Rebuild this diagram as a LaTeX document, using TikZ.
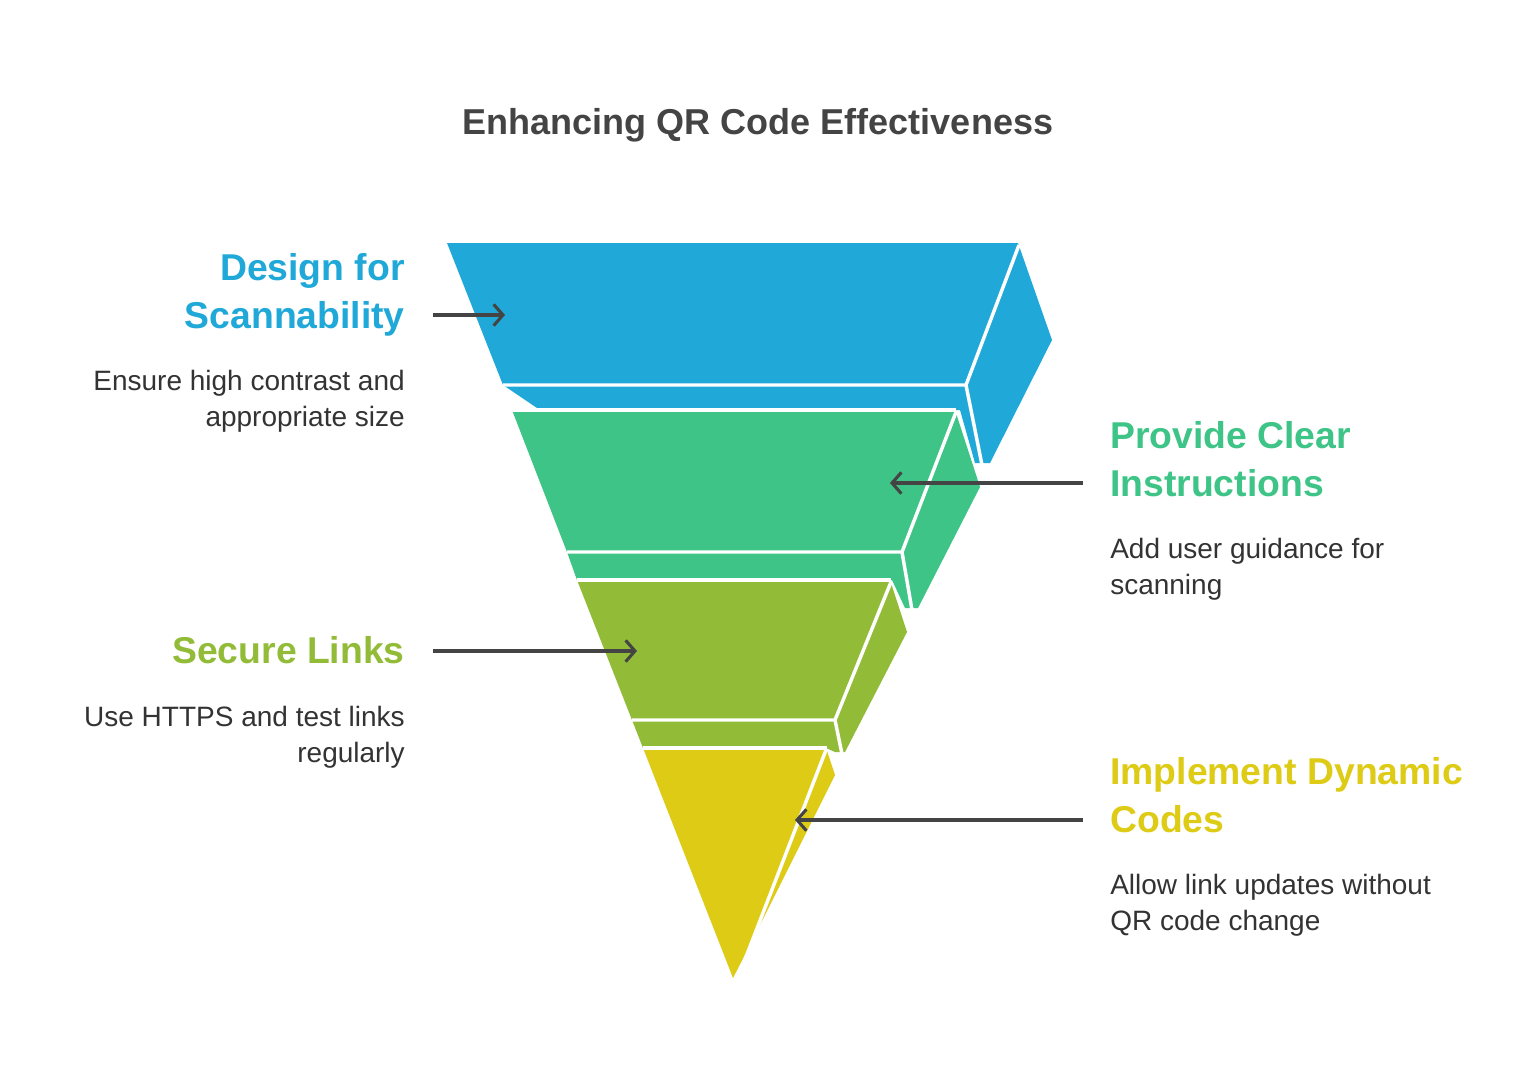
\documentclass[tikz,border=0pt]{standalone}
\usepackage{fontspec}
\setmainfont{Liberation Sans}
\usetikzlibrary{arrows.meta}
\definecolor{cblue}{HTML}{1FA8D8}
\definecolor{cgreen}{HTML}{3EC486}
\definecolor{colive}{HTML}{92BC38}
\definecolor{cyellow}{HTML}{DDCB16}
\definecolor{ctxt}{HTML}{444444}
\definecolor{cdesc}{HTML}{333333}
\begin{document}
\begin{tikzpicture}[x=0.75pt,y=-0.75pt,
  sep/.style={white,line width=2.6pt,line join=miter},
  arr/.style={ctxt,line width=2.3pt,-{Straight Barb[length=7pt,width=16pt,line width=2.3pt]}},
  head/.style={font=\fontsize{28}{34}\selectfont\bfseries,inner sep=0pt},
  desc/.style={font=\fontsize{21}{27}\selectfont,text=cdesc,inner sep=0pt}]
\useasboundingbox[fill=white] (0,0) rectangle (1540,1084);
\node[font=\fontsize{27}{32}\selectfont\bfseries,text=ctxt,anchor=base,inner sep=0pt] (title) at (758,135) {Enhancing QR Code Effectiveness};
% blue
\fill[cblue] (447,243)--(1018,243)--(1052,340)--(990,463)--(975,463)--(960,410)--(540,410)--(503,385)--cycle;
\draw[sep] (503,385)--(966,385)--(1019,245);
\draw[sep] (966,385)--(982,465);
% green
\fill[cgreen] (512,410)--(955,410)--(980,487)--(918,608)--(905,608)--(892,580)--(577,580)--(567,552)--cycle;
\draw[sep] (512,410)--(956,410);
\draw[sep] (567,552)--(902,552)--(956,412);
\draw[sep] (902,552)--(912,610);
% olive
\fill[colive] (577,580)--(890,580)--(907,632)--(845,752)--(835,752)--(826,748)--(643,748)--(632,720)--cycle;
\draw[sep] (577,580)--(891,580);
\draw[sep] (632,720)--(835,720)--(891,582);
\draw[sep] (835,720)--(842,754);
% yellow
\fill[cyellow] (643,748)--(826,748)--(835,775)--(750,945)--(733,978)--cycle;
\draw[sep] (643,748)--(827,748);
\draw[sep] (826,750)--(744,962);
% arrows
\coordinate (a1) at (433,315); \coordinate (b1) at (505,315);
\coordinate (a2) at (1083,483); \coordinate (b2) at (890,483);
\coordinate (a3) at (433,651); \coordinate (b3) at (637,651);
\coordinate (a4) at (1083,820); \coordinate (b4) at (795,820);
\draw[arr] (a1)--(b1); \draw[arr] (a2)--(b2); \draw[arr] (a3)--(b3); \draw[arr] (a4)--(b4);
% texts left
\node[head,text=cblue,anchor=base east] (h1a) at (405,280) {Design for};
\node[head,text=cblue,anchor=base east] (h1b) at (405,328) {Scannability};
\node[desc,anchor=base east] (d1a) at (405,390) {Ensure high contrast and};
\node[desc,anchor=base east] (d1b) at (405,426) {appropriate size};
\node[head,text=colive,anchor=base east] (h3) at (405,663) {Secure Links};
\node[desc,anchor=base east] (d3a) at (405,726) {Use HTTPS and test links};
\node[desc,anchor=base east] (d3b) at (405,762) {regularly};
% texts right
\node[head,text=cgreen,anchor=base west] (h2a) at (1110,448) {Provide Clear};
\node[head,text=cgreen,anchor=base west] (h2b) at (1110,496) {Instructions};
\node[desc,anchor=base west] (d2a) at (1110,558) {Add user guidance for};
\node[desc,anchor=base west] (d2b) at (1110,594) {scanning};
\node[head,text=cyellow,anchor=base west] (h4a) at (1110,784) {Implement Dynamic};
\node[head,text=cyellow,anchor=base west] (h4b) at (1110,832) {Codes};
\node[desc,anchor=base west] (d4a) at (1110,894) {Allow link updates without};
\node[desc,anchor=base west] (d4b) at (1110,930) {QR code change};
\end{tikzpicture}
\end{document}
